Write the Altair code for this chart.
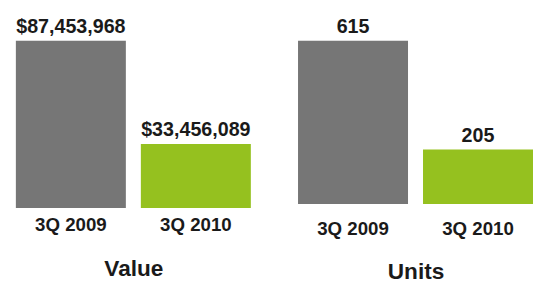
import altair as alt
import pandas as pd

periods = ["3Q 2009", "3Q 2010"]
value_usd = [87453968, 33456089]
units = [615, 205]
colors = ["#767676", "#95C11F"]

FONT = "Liberation Sans"

def panel(values, fmt, title, height, label_pad, title_pad):
    df = pd.DataFrame({"period": periods, "v": values})
    x = alt.X("period:N", sort=periods,
              scale=alt.Scale(paddingInner=0.12, paddingOuter=0),
              axis=alt.Axis(title=title, labelAngle=0, domain=False, ticks=False,
                            labelFont=FONT, labelFontSize=19, labelFontWeight="bold",
                            labelColor="#1a1a1a", labelPadding=label_pad,
                            titleFont=FONT, titleFontSize=23, titleFontWeight="bold",
                            titleColor="#1a1a1a", titlePadding=title_pad))
    y = alt.Y("v:Q", scale=alt.Scale(domain=[0, max(values)], nice=False), axis=None)
    base = alt.Chart(df).encode(x=x, y=y)
    bars = base.mark_bar().encode(
        color=alt.Color("period:N", sort=periods,
                        scale=alt.Scale(domain=periods, range=colors), legend=None))
    text = base.mark_text(baseline="alphabetic", dy=-8, font=FONT, fontSize=20,
                          fontWeight="bold", color="#1a1a1a").encode(
        text=alt.Text("v:Q", format=fmt))
    return (bars + text).properties(width=239, height=height)

left = panel(value_usd, "$,.0f", "Value", 170, 8, 24)
right = panel(units, ",d", "Units", 166, 16, 23)

chart = alt.hconcat(left, right, spacing=47).properties(
    padding={"left": 8, "top": 7, "right": 0, "bottom": 0}
).configure_view(stroke=None).resolve_scale(color="independent")

chart.save("out.html", embed_options={"renderer": "svg", "actions": False})
